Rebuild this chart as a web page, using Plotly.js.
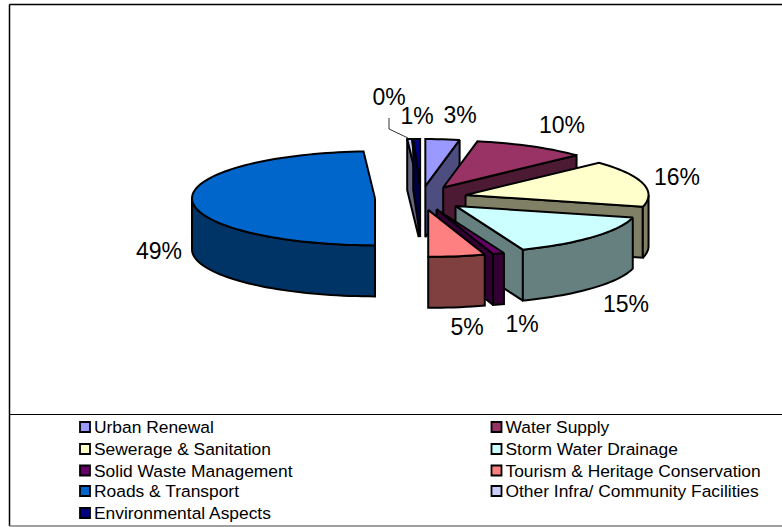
<!DOCTYPE html>
<html>
<head>
<meta charset="utf-8">
<script src="https://cdn.plot.ly/plotly-3.0.1.min.js"></script>
<style>html,body{margin:0;padding:0;background:#fff;overflow:hidden}</style>
</head>
<body>
<div id="chart" style="width:782px;height:527px"></div>
<script>
// Project outlay shares by sector, in percent
const categories = ['Urban Renewal','Water Supply','Sewerage & Sanitation','Storm Water Drainage',
  'Solid Waste Management','Tourism & Heritage Conservation','Roads & Transport',
  'Other Infra/ Community Facilities','Environmental Aspects'];
const shares = [3, 10, 16, 15, 1, 5, 49, 0.4, 0.6];
const topColors  = ['#9999FF','#993366','#FFFFCC','#CCFFFF','#660066','#FF8080','#0066CC','#CCCCFF','#000080'];
const sideColors = ['#4D4D80','#4D1A33','#808066','#668080','#330033','#804040','#003366','#666680','#000040'];
// Slices are painted from the back of the pie to the front
const paintOrder = [6, 7, 8, 0, 1, 2, 3, 4, 5];
// Label centres on the page, one per slice
const labelX = [460, 562, 677, 626, 522, 467, 159, 389, 417];
const labelY = [117, 127, 179, 306, 326, 329, 253, 99, 118];

// Pie geometry in page pixels
const cx = 421, cy = 198, rx = 183, ry = 47, depth = 51, explodeX = 46, explodeY = 12;
const total = shares.reduce((a, b) => a + b, 0);
const rad = d => d * Math.PI / 180;

const traces = [];
function poly(xs, ys, fill) {
  traces.push({type:'scatter', mode:'lines', x:xs, y:ys, fill:'toself', fillcolor:fill,
    line:{color:'#000', width:2, simplify:false}, hoverinfo:'skip', showlegend:false});
}
function arc(ax, ay, a0, a1, dy) {
  const n = Math.max(2, Math.ceil(Math.abs(a1 - a0) / 2));
  const xs = [], ys = [];
  for (let i = 0; i <= n; i++) {
    const a = rad(a0 + (a1 - a0) * i / n);
    xs.push(ax + rx * Math.sin(a));
    ys.push(ay - ry * Math.cos(a) + dy);
  }
  return [xs, ys];
}
// Start and end angle of each slice, clockwise from twelve o'clock
const starts = [], ends = [];
shares.reduce((acc, v, i) => { starts[i] = acc; ends[i] = acc + v / total * 360; return ends[i]; }, 0);

paintOrder.forEach(i => {
  const a0 = starts[i], a1 = ends[i], mid = rad((a0 + a1) / 2);
  const ax = cx + explodeX * Math.sin(mid), ay = cy - explodeY * Math.cos(mid);
  const cut = a => {
    const ox = ax + rx * Math.sin(rad(a)), oy = ay - ry * Math.cos(rad(a));
    poly([ax, ox, ox, ax, ax], [ay, oy, oy + depth, ay + depth, ay], sideColors[i]);
  };
  if (a0 > 180 && a0 < 360) cut(a0);
  if (a1 > 0 && a1 < 180) cut(a1);
  const w0 = Math.max(a0, 90), w1 = Math.min(a1, 270);
  if (w1 > w0) {
    const t = arc(ax, ay, w0, w1, 0), b = arc(ax, ay, w1, w0, depth);
    poly(t[0].concat(b[0], t[0][0]), t[1].concat(b[1], t[1][0]), sideColors[i]);
  }
  const t = arc(ax, ay, a0, a1, 0);
  poly([ax].concat(t[0], ax), [ay].concat(t[1], ay), topColors[i]);
});

// Percentage labels
traces.push({type:'scatter', mode:'text', x:labelX, y:labelY,
  text:shares.map(v => Math.round(v) + '%'), textposition:'middle center',
  textfont:{family:'Liberation Sans, Arial, sans-serif', size:23, color:'#000'},
  hoverinfo:'skip', showlegend:false});

// Leader line for the smallest slice
traces.push({type:'scatter', mode:'lines', x:[389, 389, 408], y:[118, 129, 138],
  line:{color:'#000', width:0.8}, hoverinfo:'skip', showlegend:false});

// Two-column key under the pie
const keyCol = [85, 496.5], keyRows = [427, 449, 470.5, 491, 513], keyTextGap = 9, keyTextDrop = 2;
const keyRowOf = categories.map((_, i) => keyRows[Math.floor(i / 2)]);
const keyColOf = categories.map((_, i) => keyCol[i % 2]);
traces.push({type:'scatter', mode:'markers', x:keyColOf, y:keyRowOf,
  marker:{symbol:'square', size:10, color:topColors, line:{color:'#000', width:1.8}},
  hoverinfo:'skip', showlegend:false});
traces.push({type:'scatter', mode:'text', x:keyColOf.map(v => v + keyTextGap),
  y:keyRowOf.map(v => v + keyTextDrop), text:categories,
  textposition:'middle right', cliponaxis:false,
  textfont:{family:'Liberation Sans, Arial, sans-serif', size:17.4, color:'#000'},
  hoverinfo:'skip', showlegend:false});

const frame = (x0, y0, x1, y1, color, width) =>
  ({type:'line', xref:'x', yref:'y', x0, y0, x1, y1, line:{color, width}});

Plotly.newPlot('chart', traces, {
  width:782, height:527, margin:{l:0, r:0, t:0, b:0}, showlegend:false,
  paper_bgcolor:'#fff', plot_bgcolor:'#fff',
  xaxis:{range:[0, 782], visible:false, fixedrange:true},
  yaxis:{range:[527, 0], visible:false, fixedrange:true},
  shapes:[
    frame(9.5, 4.5, 782, 4.5, '#000', 1.5),
    frame(9.5, 4.5, 9.5, 526, '#000', 1.5),
    frame(9.5, 414.5, 782, 414.5, '#000', 1.2),
    frame(9.5, 526, 782, 526, '#808080', 1.5)
  ]
}, {displayModeBar:false, staticPlot:true});
</script>
</body>
</html>
